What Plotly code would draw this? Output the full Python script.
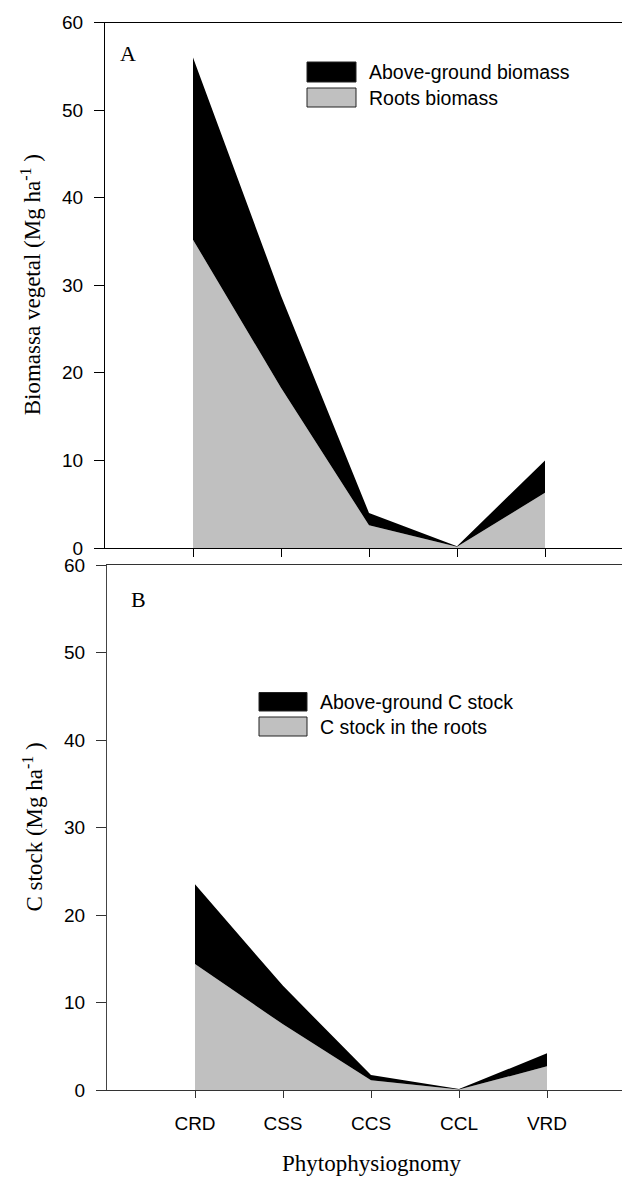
import plotly.graph_objects as go

# ---------------- data ----------------
categories = ["CRD", "CSS", "CCS", "CCL", "VRD"]
cat_pos = [1, 2, 3, 4, 5]

# Panel A: biomass (Mg ha-1)
roots_biomass = [35.2, 18.3, 2.6, 0.15, 6.3]
above_biomass = [20.8, 10.5, 1.4, 0.05, 3.7]

# Panel B: C stock (Mg ha-1)
roots_cstock = [14.4, 7.5, 1.1, 0.05, 2.7]
above_cstock = [9.1, 4.4, 0.6, 0.05, 1.5]

yticks = [0, 10, 20, 30, 40, 50, 60]

W, H = 622, 1178
GREY = "#c0c0c0"
SANS = "Liberation Sans, Arial, sans-serif"
SERIF = "Liberation Serif, Times New Roman, serif"


def stack(a, b):
    return [x + y for x, y in zip(a, b)]


fig = go.Figure()

# Panel A
fig.add_trace(go.Scatter(x=cat_pos, y=roots_biomass, mode="lines", line=dict(width=0, color=GREY),
                         fill="tozeroy", fillcolor=GREY, name="Roots biomass",
                         xaxis="x", yaxis="y", showlegend=False))
fig.add_trace(go.Scatter(x=cat_pos, y=stack(roots_biomass, above_biomass), mode="lines",
                         line=dict(width=0, color="black"), fill="tonexty", fillcolor="black",
                         name="Above-ground biomass", xaxis="x", yaxis="y", showlegend=False))
# Panel B
fig.add_trace(go.Scatter(x=cat_pos, y=roots_cstock, mode="lines", line=dict(width=0, color=GREY),
                         fill="tozeroy", fillcolor=GREY, name="C stock in the roots",
                         xaxis="x2", yaxis="y2", showlegend=False))
fig.add_trace(go.Scatter(x=cat_pos, y=stack(roots_cstock, above_cstock), mode="lines",
                         line=dict(width=0, color="black"), fill="tonexty", fillcolor="black",
                         name="Above-ground C stock", xaxis="x2", yaxis="y2", showlegend=False))


def px(xpix):
    return xpix / W


def py(ypix):
    return 1 - ypix / H


# geometry (pixels)
A_left, A_top, A_bot = 105, 22.5, 548
B_left, B_top, B_bot = 107, 565, 1090
unit = 88.0

common_x = dict(showgrid=False, zeroline=False, ticks="outside", tickvals=cat_pos,
                showline=True, mirror=True, linewidth=1, automargin=False)
common_y = dict(showgrid=False, zeroline=False, ticks="outside", ticklen=10, tickvals=yticks,
                range=[0, 60], showline=True, linewidth=1, automargin=False,
                tickfont=dict(family=SANS, size=19, color="black"), ticklabelstandoff=7)

fig.update_layout(
    width=W, height=H, margin=dict(l=0, r=0, t=0, b=0, autoexpand=False),
    paper_bgcolor="white", plot_bgcolor="white", showlegend=False,
    xaxis=dict(common_x, domain=[px(A_left), 1], range=[0, (W - A_left) / unit],
               anchor="y", showticklabels=False, ticklen=8, linecolor="black", tickcolor="black"),
    yaxis=dict(common_y, domain=[py(A_bot), py(A_top)], anchor="x",
               linecolor="black", tickcolor="black"),
    xaxis2=dict(common_x, domain=[px(B_left), 1], range=[0, (W - B_left) / unit],
                anchor="y2", ticklen=7, linecolor="#333", tickcolor="#333",
                ticktext=categories, tickfont=dict(family=SANS, size=19, color="black"),
                ticklabelstandoff=9),
    yaxis2=dict(common_y, domain=[py(B_bot), py(B_top)], anchor="x2",
                linecolor="#444", tickcolor="#333"),
)


def label(text, x, y, size=22, family=SERIF, angle=0, xanchor="center"):
    fig.add_annotation(text=text, xref="paper", yref="paper", x=px(x), y=py(y),
                       textangle=angle, showarrow=False, xanchor=xanchor, yanchor="middle",
                       font=dict(family=family, size=size, color="black"))


# axis titles and panel letters
label("Biomassa vegetal (Mg ha<sup>-1</sup> )", 31, (A_top + A_bot) / 2, size=23, angle=-90)
label("C stock (Mg ha<sup>-1</sup> )", 33, (B_top + B_bot) / 2, size=23, angle=-90)
label("Phytophysiognomy", 371, 1163, size=23)
label("A", 128, 54)
label("B", 138, 599)

# legends (drawn as boxes + labels)
legend_a = [("Above-ground biomass", "black", 62, 82), ("Roots biomass", GREY, 88, 107)]
legend_b = [("Above-ground C stock", "black", 692.5, 711), ("C stock in the roots", GREY, 717, 736)]
for items, x0, x1, xt in [(legend_a, 307, 356, 367), (legend_b, 259, 307, 318)]:
    for text, col, y0, y1 in items:
        fig.add_shape(type="rect", xref="paper", yref="paper",
                      x0=px(x0), x1=px(x1), y0=py(y1), y1=py(y0),
                      fillcolor=col, line=dict(color="#222", width=1))
        label(text, xt, (y0 + y1) / 2, size=19.5, family=SANS, xanchor="left")

fig.write_html("out.html", config={"displayModeBar": False},
               post_script="document.body.style.margin='0';")
